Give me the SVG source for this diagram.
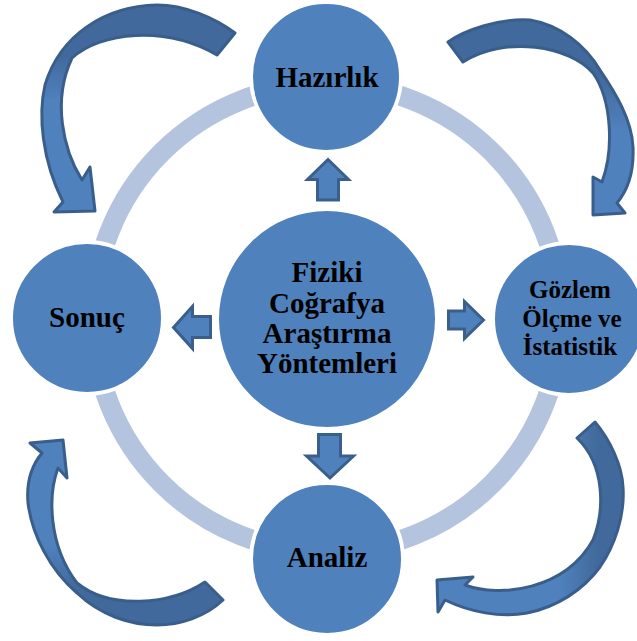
<svg xmlns="http://www.w3.org/2000/svg" width="637" height="641" viewBox="0 0 637 641">
<defs>
<style>
.node{fill:#4F81BD;stroke:#FFFFFF;stroke-width:4}
.lbl{font-family:"Liberation Serif","Times New Roman",serif;font-weight:bold;fill:#000;text-anchor:middle}
.big{font-size:29px}
.sm{font-size:25px}
.blk{fill:#4F81BD;stroke:#3A5F8D;stroke-width:3;stroke-linejoin:miter}
.crv{stroke:#3A5E8C;stroke-width:3;stroke-linejoin:round}
</style>
<linearGradient id="gTL" gradientUnits="userSpaceOnUse" x1="0" y1="55" x2="0" y2="100">
<stop offset="0" stop-color="#41699B"/><stop offset="1" stop-color="#4F81BD"/>
</linearGradient>
<linearGradient id="gTR" gradientUnits="userSpaceOnUse" x1="0" y1="75" x2="0" y2="130">
<stop offset="0" stop-color="#41699B"/><stop offset="1" stop-color="#4F81BD"/>
</linearGradient>
<linearGradient id="gBL" gradientUnits="userSpaceOnUse" x1="0" y1="545" x2="0" y2="590">
<stop offset="0" stop-color="#4F81BD"/><stop offset="1" stop-color="#41699B"/>
</linearGradient>
<linearGradient id="gBR" gradientUnits="userSpaceOnUse" x1="598" y1="0" x2="560" y2="0">
<stop offset="0" stop-color="#41699B"/><stop offset="1" stop-color="#4F81BD"/>
</linearGradient>
</defs>
<rect width="637" height="641" fill="#FFFFFF"/>
<g id="connectors">
<circle cx="327" cy="318" r="234" fill="none" stroke="#B4C4DE" stroke-width="20"/>
<path id="arrow-tl" class="crv" fill="url(#gTL)" d="M235,33 C215,18 185,5 157,5 C105,6 60,35 45,85 C38,115 42,160 63,202 L54,212 L95,211 L90,167 L82,180 C63,150 52,100 72,58 C100,32 165,25 217,55 Z"/>
<path id="arrow-tr" class="crv" fill="url(#gTR)" d="M448,42 C465,30 500,18 530,20 C560,25 585,45 600,70 C615,92 632,120 633,147 C634,170 628,190 617,203 L625,213 L593,215 L593,177 L602,182 C614,150 612,100 593,73 C570,46 505,35 463,62 Z"/>
<path id="arrow-bl" class="crv" fill="url(#gBL)" d="M223,600 C205,617 180,625 157,625 C130,625 100,615 77,593 C50,570 32,535 28,503 C26,480 32,465 42,453 L30,443 L63,440 L67,478 L58,468 C48,495 48,545 77,583 C110,610 170,605 205,582 Z"/>
<path id="arrow-br" class="crv" fill="url(#gBR)" d="M595,422 C610,440 622,465 623,487 C625,515 615,545 600,567 C583,590 557,607 527,613 C500,618 470,612 445,600 L438,612 L437,580 L473,577 L465,585 C500,598 565,590 593,540 C605,510 605,465 577,438 Z"/>
<path id="arrow-up" class="blk" d="M328,159.5 L348.5,179.5 L338.5,179.5 L338.5,200 L317.5,200 L317.5,179.5 L307.5,179.5 Z"/>
<path id="arrow-down" class="blk" d="M330,478 L353.5,456 L340.5,456 L340.5,434.5 L318.5,434.5 L318.5,456 L306.5,456 Z"/>
<path id="arrow-left" class="blk" d="M173.5,327.5 L192.5,306.5 L192.5,316.5 L210.5,316.5 L210.5,337.5 L192.5,337.5 L192.5,348.5 Z"/>
<path id="arrow-right" class="blk" d="M483.5,320 L464.5,301.5 L464.5,311 L448.5,311 L448.5,329 L464.5,329 L464.5,338.5 Z"/>
</g>
<g id="node-center">
<circle class="node" cx="327" cy="319" r="110"/>
<text class="lbl big" x="327" y="282">Fiziki</text>
<text class="lbl big" x="327" y="313">Coğrafya</text>
<text class="lbl big" x="327" y="343">Araştırma</text>
<text class="lbl big" x="327" y="373">Yöntemleri</text>
</g>
<g id="node-hazirlik">
<circle class="node" cx="326" cy="77" r="75"/>
<text class="lbl big" x="327" y="87">Hazırlık</text>
</g>
<g id="node-sonuc">
<circle class="node" cx="87" cy="318" r="76"/>
<text class="lbl big" x="87" y="327">Sonuç</text>
</g>
<g id="node-gozlem">
<circle class="node" cx="569" cy="319" r="76"/>
<text class="lbl sm" x="570" y="298">Gözlem</text>
<text class="lbl sm" x="572" y="327">Ölçme ve</text>
<text class="lbl sm" x="570" y="355">İstatistik</text>
</g>
<g id="node-analiz">
<circle class="node" cx="327" cy="559" r="76"/>
<text class="lbl big" x="327" y="567">Analiz</text>
</g>
</svg>
